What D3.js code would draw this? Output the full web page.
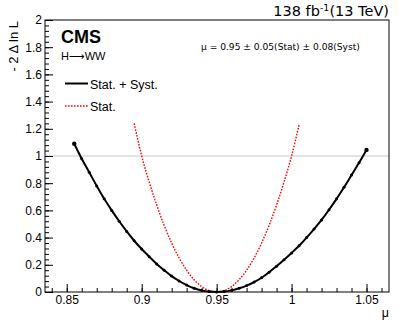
<!DOCTYPE html>
<meta charset="UTF-8">
<style>
body { margin: 0; background: #fff; }
svg text { font-family: "Liberation Sans", Arial, sans-serif; fill: #000; }
.tick text { font-size: 12px; font-family: "Liberation Sans", Arial, sans-serif; }
.tick line { stroke: #000; }
.domain { display: none; }
</style>
<body>
<script src="https://cdnjs.cloudflare.com/ajax/libs/d3/7.8.5/d3.min.js"></script>
<script>
// scan points, stat + syst (black)
var muFull = [0.855, 0.86, 0.865, 0.87, 0.875, 0.88, 0.885, 0.89, 0.895, 0.90,
              0.905, 0.91, 0.915, 0.92, 0.925, 0.93, 0.935, 0.94, 0.945, 0.95,
              0.955, 0.96, 0.965, 0.97, 0.975, 0.98, 0.985, 0.99, 0.995, 1.0,
              1.005, 1.01, 1.015, 1.02, 1.025, 1.03, 1.035, 1.04, 1.045, 1.05];
var nllFull = [1.09, 0.98, 0.88, 0.78, 0.685, 0.60, 0.52, 0.445, 0.377, 0.316,
               0.26, 0.206, 0.16, 0.117, 0.081, 0.051, 0.028, 0.012, 0.003, 0,
               0.003, 0.012, 0.027, 0.047, 0.073, 0.105, 0.145, 0.19, 0.237, 0.287,
               0.34, 0.40, 0.463, 0.53, 0.605, 0.685, 0.77, 0.86, 0.95, 1.045];
// stat only (red)
var muStat = [0.895, 0.90, 0.905, 0.91, 0.915, 0.92, 0.925, 0.93, 0.935, 0.94, 0.945, 0.95,
              0.955, 0.96, 0.965, 0.97, 0.975, 0.98, 0.985, 0.99, 0.995, 1.0, 1.005];
var nllStat = [1.24, 1.00, 0.81, 0.64, 0.49, 0.36, 0.25, 0.16, 0.09, 0.04, 0.01, 0,
               0.01, 0.04, 0.09, 0.16, 0.25, 0.36, 0.49, 0.64, 0.81, 1.0, 1.23];

var xTicks = [0.85, 0.9, 0.95, 1.0, 1.05];
var yTicks = [0, 0.2, 0.4, 0.6, 0.8, 1, 1.2, 1.4, 1.6, 1.8, 2];

var W = 407, H = 335;
var frameL = 45, frameR = 389, frameT = 20, frameB = 292;

var svg = d3.select("body").append("svg")
    .attr("width", W).attr("height", H);

var x = d3.scaleLinear().domain([0.8355, 1.065]).range([frameL, frameR]);
var y = d3.scaleLinear().domain([0, 2]).range([frameB, frameT]);

// reference line at 1
svg.append("line")
    .attr("x1", frameL).attr("x2", frameR)
    .attr("y1", y(1)).attr("y2", y(1))
    .attr("stroke", "#c8c8c8").attr("stroke-width", 1);

// minor ticks
var xMinor = d3.range(84, 107).map(function(d) { return d / 100; });
var yMinor = d3.range(0, 51).map(function(d) { return d * 0.04; });
svg.append("g").attr("transform", "translate(0," + frameB + ")")
    .call(d3.axisBottom(x).tickValues(xMinor).tickFormat("").tickSizeInner(-4).tickSizeOuter(0));
svg.append("g").attr("transform", "translate(" + frameL + ",0)")
    .call(d3.axisLeft(y).tickValues(yMinor).tickFormat("").tickSizeInner(-4).tickSizeOuter(0));

// major ticks + labels
svg.append("g").attr("transform", "translate(0," + frameB + ")")
    .call(d3.axisBottom(x).tickValues(xTicks).tickFormat(d3.format("")).tickSizeInner(-8).tickSizeOuter(0).tickPadding(3));
svg.append("g").attr("transform", "translate(" + frameL + ",0)")
    .call(d3.axisLeft(y).tickValues(yTicks).tickFormat(d3.format("")).tickSizeInner(-8).tickSizeOuter(0).tickPadding(3));

// frame
svg.append("rect")
    .attr("x", frameL).attr("y", frameT)
    .attr("width", frameR - frameL).attr("height", frameB - frameT)
    .attr("fill", "none").attr("stroke", "#000").attr("stroke-width", 1);

var line = d3.line()
    .x(function(d) { return x(d[0]); })
    .y(function(d) { return y(d[1]); })
    .curve(d3.curveMonotoneX);

var statPts = muStat.map(function(m, i) { return [m, nllStat[i]]; });
var fullPts = muFull.map(function(m, i) { return [m, nllFull[i]]; });

svg.append("path").datum(statPts)
    .attr("d", line).attr("fill", "none")
    .attr("stroke", "#ff0000").attr("stroke-width", 1.4)
    .attr("stroke-dasharray", "1.6,1.4");

svg.append("path").datum(fullPts)
    .attr("d", line).attr("fill", "none")
    .attr("stroke", "#000").attr("stroke-width", 2);

svg.selectAll("circle.pt").data(fullPts).enter().append("circle")
    .attr("class", "pt")
    .attr("cx", function(d) { return x(d[0]); })
    .attr("cy", function(d) { return y(d[1]); })
    .attr("r", function(d, i) { return (i == 0 || i == fullPts.length - 1) ? 2.2 : 1.5; })
    .attr("fill", "#000");

// axis titles
svg.append("text")
    .attr("transform", "translate(18," + (frameT + 1) + ") rotate(-90)")
    .attr("text-anchor", "end")
    .style("font-size", "13px")
    .text("- 2 \u0394 ln L");

svg.append("text")
    .attr("x", frameR).attr("y", 317)
    .attr("text-anchor", "end")
    .style("font-size", "12.5px")
    .text("\u03bc");

// labels
svg.append("text")
    .attr("x", 61).attr("y", 43)
    .style("font-size", "18px").style("font-weight", "bold")
    .text("CMS");
var proc = svg.append("text")
    .attr("x", 61).attr("y", 60)
    .style("font-size", "11px");
proc.append("tspan").text("H");
proc.append("tspan").style("font-family", "'DejaVu Sans', sans-serif").text("\u27f6");
proc.append("tspan").text("WW");

var lum = svg.append("text")
    .attr("x", frameR).attr("y", 16)
    .attr("text-anchor", "end")
    .style("font-family", "'DejaVu Sans', Verdana, sans-serif")
    .style("font-size", "14.5px");
lum.append("tspan").text("138 fb");
lum.append("tspan").attr("dy", -5).style("font-size", "9.5px").text("-1");
lum.append("tspan").attr("dy", 5).text("(13 TeV)");

svg.append("text")
    .attr("x", 201).attr("y", 50)
    .style("font-family", "'DejaVu Sans', Verdana, sans-serif")
    .style("font-size", "9.1px")
    .text("\u03bc = 0.95 \u00b1 0.05(Stat) \u00b1 0.08(Syst)");

// legend
svg.append("line")
    .attr("x1", 65).attr("x2", 88).attr("y1", 83.5).attr("y2", 83.5)
    .attr("stroke", "#000").attr("stroke-width", 2);
svg.append("text")
    .attr("x", 90).attr("y", 88.5)
    .style("font-size", "12.5px")
    .text("Stat. + Syst.");
svg.append("line")
    .attr("x1", 65).attr("x2", 88).attr("y1", 106).attr("y2", 106)
    .attr("stroke", "#ff0000").attr("stroke-width", 1.4)
    .attr("stroke-dasharray", "1.6,1.4");
svg.append("text")
    .attr("x", 90).attr("y", 111)
    .style("font-size", "12.5px")
    .text("Stat.");
</script>
</body>
